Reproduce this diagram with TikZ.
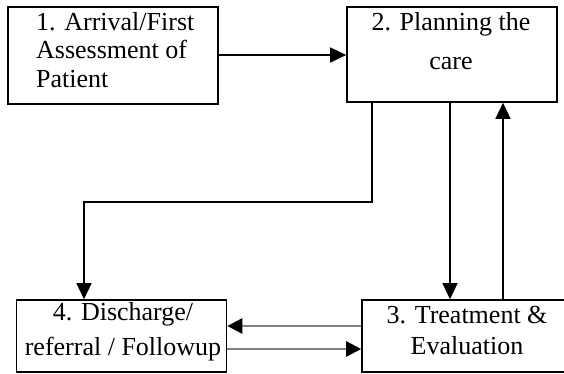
\documentclass[tikz,border=0pt]{standalone}
\usepackage{fontspec}
\setmainfont{Liberation Serif}
\usetikzlibrary{arrows.meta,positioning}

\begin{document}
\begin{tikzpicture}[
		x=1pt, y=-1pt,
		stage/.style={draw, line width=1.6pt, inner sep=0pt, minimum width=210pt},
		caption/.style={anchor=north, align=center, inner sep=0pt, font=\fontsize{26}{28.5}\selectfont},
		link/.style={-{Triangle[length=16pt,width=15pt]}, line width=1.4pt},
		back/.style={-{Triangle[length=15pt,width=15pt,black]}, draw=black!50, line width=2.6pt}
		]

		\useasboundingbox (0,0) rectangle (564,374);

		% --- boxes ---
		\node[stage, minimum height=97pt] (assess) at (113,55.5) {};
		\node[stage, minimum height=95pt] (plan) at (452,54.5) {};
		\node[stage, minimum height=72pt] (treat) at (467,336) {};
		\node[stage, minimum height=72pt] (discharge) at (121.5,336) {};

		\node[caption, anchor=north west, align=left] (assesstext) at (36,12) {1. Arrival/First\\Assessment of\\Patient};
		\node[caption] (plantext) at (451,12) {2. Planning the\\[11pt]care};
		\node[caption] (treattext) at (467,306) {3. Treatment \&\\[3pt]Evaluation};
		\node[caption] (dischargetext) at (123,302) {4. Discharge/\\[7pt]referral / Followup};

		% --- connectors ---
		\coordinate (turnA) at (372,202);
		\coordinate (turnB) at (84,202);
		\coordinate (downx) at (450,0);
		\coordinate (upx) at (503,0);
		\coordinate (leftgray) at (0,326);
		\coordinate (rightgray) at (0,349);

		\draw[link] (assess.east |- 0,55) -- (plan.west |- 0,55);
		\draw[link] (turnA |- plan.south) -- (turnA) -- (turnB) -- (turnB |- discharge.north);
		\draw[link] (downx |- plan.south) -- (downx |- treat.north);
		\draw[link] (upx |- treat.north) -- (upx |- plan.south);
		\draw[back] (treat.west |- leftgray) -- (discharge.east |- leftgray);
		\draw[back] (discharge.east |- rightgray) -- (treat.west |- rightgray);

	\end{tikzpicture}
\end{document}
